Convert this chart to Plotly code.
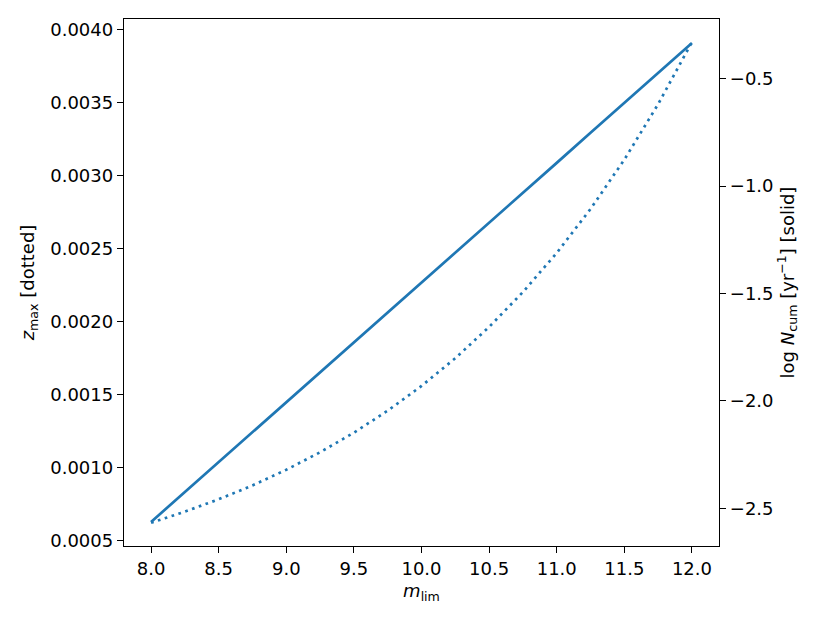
import plotly.graph_objects as go

m_lim = [8.0, 8.25, 8.5, 8.75, 9.0, 9.25, 9.5, 9.75, 10.0, 10.25, 10.5, 10.75,
         11.0, 11.25, 11.5, 11.75, 12.0]
z_max = [0.000620, 0.000696, 0.000781, 0.000876, 0.000983, 0.001103, 0.001237,
         0.001388, 0.001557, 0.001747, 0.001961, 0.002200, 0.002468, 0.002769,
         0.003107, 0.003487, 0.003912]
log_N_cum = [-2.564, -2.425, -2.285, -2.146, -2.007, -1.867, -1.728, -1.589,
             -1.449, -1.310, -1.170, -1.031, -0.892, -0.752, -0.613, -0.474, -0.334]

x_ticks = [8.0, 8.5, 9.0, 9.5, 10.0, 10.5, 11.0, 11.5, 12.0]
left_ticks = [0.0005, 0.0010, 0.0015, 0.0020, 0.0025, 0.0030, 0.0035, 0.0040]
right_ticks = [-2.5, -2.0, -1.5, -1.0, -0.5]

color = "#1f77b4"
font = dict(family="DejaVu Sans", size=18, color="black")

fig = go.Figure()
fig.add_trace(go.Scatter(x=m_lim, y=z_max, mode="lines",
                         line=dict(color=color, width=2.7, dash="2.7px,4.5px"),
                         yaxis="y", showlegend=False))
fig.add_trace(go.Scatter(x=m_lim, y=log_N_cum, mode="lines",
                         line=dict(color=color, width=2.7),
                         yaxis="y2", showlegend=False))

axis_common = dict(showgrid=False, zeroline=False, showline=True,
                   linecolor="black", linewidth=1.4, ticks="outside",
                   ticklen=6, tickwidth=1.4, tickcolor="black", tickfont=font)

fig.update_layout(
    width=830, height=623,
    margin=dict(l=116, r=119, t=11, b=85),
    paper_bgcolor="white", plot_bgcolor="white",
    font=font,
    xaxis=dict(range=[7.8, 12.2], tickvals=x_ticks,
               ticktext=[f"{v:.1f}" for v in x_ticks], mirror=True,
               title=dict(text="<i>m</i><sub>lim</sub>", font=font, standoff=6),
               **axis_common),
    yaxis=dict(range=[0.000461, 0.00407], tickvals=left_ticks,
               ticktext=[f"{v:.4f}" for v in left_ticks],
               title=dict(text="<i>z</i><sub>max</sub> [dotted]", font=font, standoff=10),
               **axis_common),
    yaxis2=dict(range=[-2.676, -0.222], tickvals=right_ticks,
                ticktext=[f"\u2212{abs(v):.1f}" for v in right_ticks],
                overlaying="y", side="right",
                title=dict(text="log <i>N</i><sub>cum</sub> [yr<sup>\u22121</sup>] [solid]",
                           font=font, standoff=8),
                **axis_common),
)

fig.write_html("out.html")
